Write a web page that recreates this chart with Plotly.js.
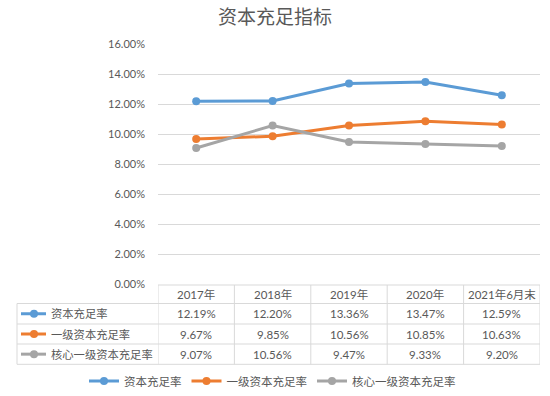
<!DOCTYPE html>
<html>
<head>
<meta charset="utf-8">
<script src="https://cdn.plot.ly/plotly-3.0.1.min.js"></script>
<style>html,body{margin:0;padding:0;background:#fff;}#chart{width:550px;height:396px;}</style>
</head>
<body>
<div id="chart"></div>
<script>
const categories = ['2017年', '2018年', '2019年', '2020年', '2021年6月末'];
const seriesNames = ['资本充足率', '一级资本充足率', '核心一级资本充足率'];
const capitalAdequacy = [12.19, 12.20, 13.36, 13.47, 12.59];
const tier1Adequacy = [9.67, 9.85, 10.56, 10.85, 10.63];
const coreTier1Adequacy = [9.07, 10.56, 9.47, 9.33, 9.20];
const seriesValues = [capitalAdequacy, tier1Adequacy, coreTier1Adequacy];
const colors = ['#5B9BD5', '#ED7D31', '#A5A5A5'];

const FONT = 'Lato, "Noto Sans CJK SC", sans-serif';
const TXT = '#595959';
const BORDER = '#D9D9D9';

// geometry (pixels)
const W = 550, H = 396;
const mL = 158, mR = 10, mT = 44, mB = 112;
const pw = W - mL - mR, ph = H - mT - mB;
const px2x = p => (p - mL) / pw;
const py2y = p => (H - mB - p) / ph;

const traces = seriesNames.map((name, i) => ({
  type: 'scatter', mode: 'lines+markers', name: name,
  x: categories, y: seriesValues[i],
  line: {color: colors[i], width: 3},
  marker: {color: colors[i], size: 8},
  hoverinfo: 'skip'
}));

const shapes = [];
const annotations = [];
const rowEdges = [285, 303.5, 324, 344, 364.3].map(py2y);
const leftX = px2x(17);

shapes.push({type: 'line', xref: 'paper', yref: 'paper', x0: 0, x1: 1, y0: rowEdges[0], y1: rowEdges[0], line: {color: BORDER, width: 1}});
for (let r = 1; r < rowEdges.length; r++) {
  shapes.push({type: 'line', xref: 'paper', yref: 'paper', x0: leftX, x1: 1, y0: rowEdges[r], y1: rowEdges[r], line: {color: BORDER, width: 1}});
}
for (let c = 0; c <= categories.length; c++) {
  shapes.push({type: 'line', xref: 'x', yref: 'paper', x0: c - 0.5, x1: c - 0.5, y0: rowEdges[0], y1: rowEdges[4], line: {color: BORDER, width: 1}});
}
shapes.push({type: 'line', xref: 'paper', yref: 'paper', x0: leftX, x1: leftX, y0: rowEdges[1], y1: rowEdges[4], line: {color: BORDER, width: 1}});

categories.forEach((c, i) => {
  annotations.push({xref: 'x', yref: 'paper', x: i, y: (rowEdges[0] + rowEdges[1]) / 2, text: c, showarrow: false, font: {family: FONT, size: 11.5, color: TXT}, xanchor: 'center', yanchor: 'middle'});
});
seriesNames.forEach((name, r) => {
  const yc = (rowEdges[r + 1] + rowEdges[r + 2]) / 2;
  seriesValues[r].forEach((v, i) => {
    annotations.push({xref: 'x', yref: 'paper', x: i, y: yc, text: v.toFixed(2) + '%', showarrow: false, font: {family: FONT, size: 11.5, color: TXT}, xanchor: 'center', yanchor: 'middle'});
  });
  annotations.push({xref: 'paper', yref: 'paper', x: px2x(49), y: yc, text: name, showarrow: false, font: {family: FONT, size: 11.3, color: TXT}, xanchor: 'left', yanchor: 'middle'});
  shapes.push({type: 'line', xref: 'paper', yref: 'paper', x0: px2x(21), x1: px2x(46), y0: yc, y1: yc, line: {color: colors[r], width: 3}});
  const rx = 4 / pw, ry = 4 / ph, cx = px2x(34);
  shapes.push({type: 'circle', xref: 'paper', yref: 'paper', x0: cx - rx, x1: cx + rx, y0: yc - ry, y1: yc + ry, fillcolor: colors[r], line: {color: colors[r], width: 0}});
});

const layout = {
  width: W, height: H,
  margin: {l: mL, r: mR, t: mT, b: mB, autoexpand: false},
  paper_bgcolor: '#fff', plot_bgcolor: '#fff',
  font: {family: FONT, color: TXT},
  title: {text: '资本充足指标', font: {family: FONT, size: 19, color: TXT}, x: 0.5, xref: 'container', xanchor: 'center', y: 1 - 17 / H, yref: 'container', yanchor: 'middle'},
  xaxis: {type: 'category', range: [-0.5, categories.length - 0.5], showticklabels: false, showgrid: false, zeroline: false, showline: false, ticks: ''},
  yaxis: {range: [0, 16], dtick: 2, tickformat: '.2f', ticksuffix: '%', showgrid: true, gridcolor: BORDER, gridwidth: 1, zeroline: false, showline: false, ticks: '', ticklabelstandoff: 12, tickfont: {family: FONT, size: 11, color: TXT}},
  showlegend: true,
  legend: {orientation: 'h', xref: 'paper', yref: 'paper', x: px2x(84), xanchor: 'left', y: py2y(381), yanchor: 'middle', font: {family: FONT, size: 11.5, color: TXT}, itemwidth: 30, tracegroupgap: 0, bgcolor: 'rgba(0,0,0,0)'},
  shapes: shapes,
  annotations: annotations
};

Plotly.newPlot('chart', traces, layout, {staticPlot: true, displayModeBar: false});
</script>
</body>
</html>
